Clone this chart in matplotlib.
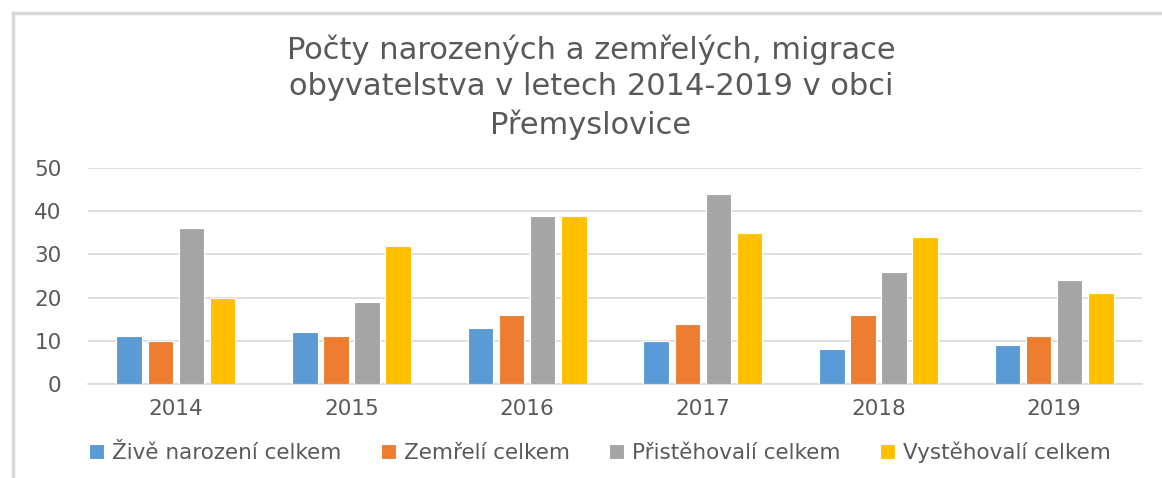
import matplotlib.pyplot as plt
import numpy as np

# Data
years = ['2014', '2015', '2016', '2017', '2018', '2019']
zive_narozeni = [11, 12, 13, 10, 8, 9]
zemreli = [10, 11, 16, 14, 16, 11]
pristehovali = [36, 19, 39, 44, 26, 24]
vystehovali = [20, 32, 39, 35, 34, 21]

series = [
    ('Živě narození celkem', zive_narozeni, '#5B9BD5'),
    ('Zemřelí celkem', zemreli, '#ED7D31'),
    ('Přistěhovalí celkem', pristehovali, '#A5A5A5'),
    ('Vystěhovalí celkem', vystehovali, '#FFC000'),
]

plt.rcParams['font.family'] = ['DejaVu Sans']
text_col = '#595959'

fig = plt.figure(figsize=(11.62, 4.78), dpi=100)
ax = fig.add_axes([88 / 1162, 1 - 384 / 478, (1142 - 88) / 1162, (384 - 168) / 478])

x = np.arange(len(years))
step = 0.177
width = 0.145
for i, (name, vals, col) in enumerate(series):
    ax.bar(x + (i - 1.5) * step, vals, width, color=col, label=name,
           edgecolor='white', linewidth=0.8, zorder=3)

ax.set_xlim(-0.5, len(years) - 0.5)
ax.set_ylim(0, 50)
ax.set_yticks(range(0, 51, 10))
ax.set_xticks(x)
ax.set_xticklabels(years)
ax.grid(axis='y', color='#D9D9D9', linewidth=1.2, zorder=0)
ax.tick_params(length=0, colors=text_col)
ax.tick_params(axis='y', pad=19, labelsize=15.5)
ax.tick_params(axis='x', pad=11, labelsize=15.5)
for s in ['top', 'right', 'left']:
    ax.spines[s].set_visible(False)
ax.spines['bottom'].set_color('#D9D9D9')
ax.spines['bottom'].set_linewidth(1.2)

fig.text(0.5086, 1 - 87 / 478, 'Počty narozených a zemřelých, migrace\n'
         'obyvatelstva v letech 2014-2019 v obci\nPřemyslovice',
         ha='center', va='center', fontsize=22, color=text_col, linespacing=1.33)

leg = ax.legend(loc='center', bbox_to_anchor=((600 - 88) / 1054, (384 - 452) / 216),
                ncol=4, frameon=False, fontsize=15.5, handlelength=0.7,
                handleheight=0.7, handletextpad=0.35, columnspacing=1.85,
                labelcolor=text_col)

# chart frame (left and top edges visible)
fig.add_artist(plt.Line2D([13 / 1162, 13 / 1162], [0, 1 - 13 / 478],
                          color='#D9D9D9', linewidth=2.5))
fig.add_artist(plt.Line2D([13 / 1162, 1], [1 - 13 / 478, 1 - 13 / 478],
                          color='#D9D9D9', linewidth=2.5))

plt.savefig('out.png', dpi=100)
